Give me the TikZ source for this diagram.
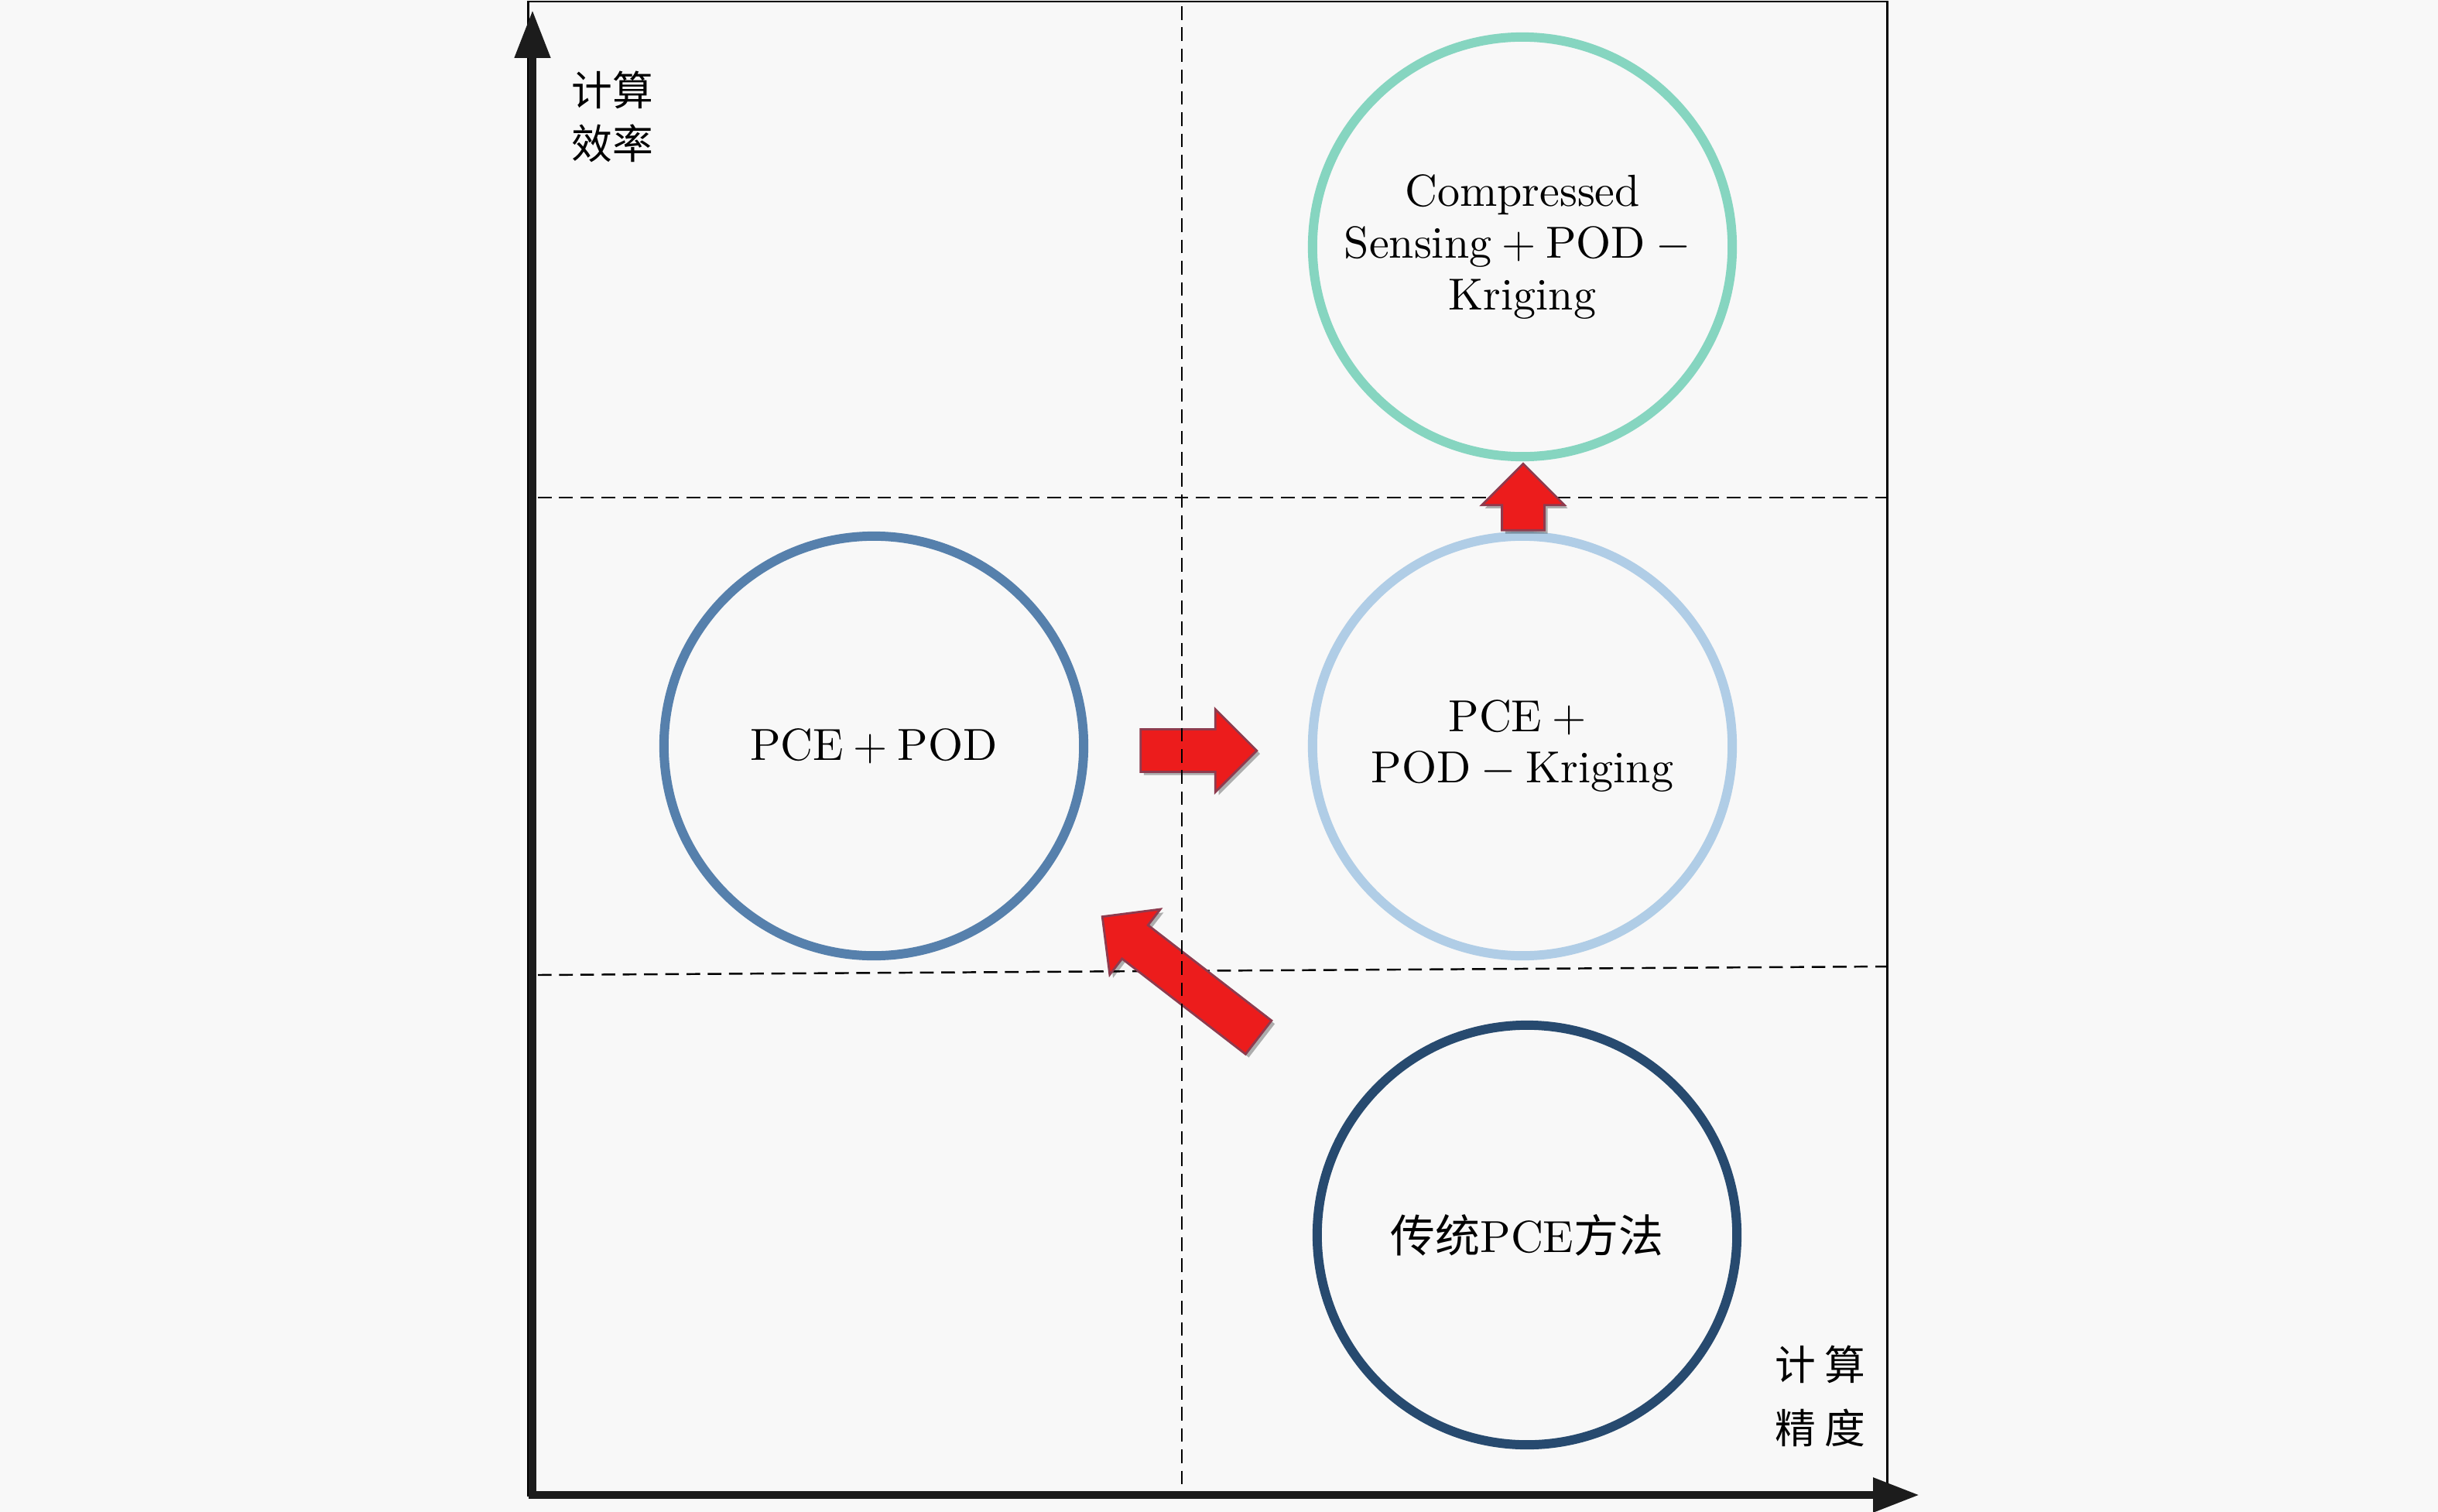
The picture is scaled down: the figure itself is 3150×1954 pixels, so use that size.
\RequirePackage{fix-cm}
\documentclass[tikz,border=0pt]{standalone}
\usepackage{fontspec}
\setmainfont{lmroman10-regular}[Extension=.otf]
\newfontfamily\cjk{Noto Sans CJK SC}
\usetikzlibrary{arrows.meta,shapes.arrows,shadows}
\definecolor{bgc}{HTML}{F8F8F8}
\definecolor{arrred}{HTML}{EC1C1C}
\definecolor{arrline}{HTML}{8E3B4E}
\definecolor{cpod}{HTML}{5680AC}
\definecolor{ckrig}{HTML}{B0CDE6}
\definecolor{ccs}{HTML}{86D5C0}
\definecolor{ctrad}{HTML}{274A6F}
\definecolor{axisblack}{HTML}{1C1C1C}
\begin{document}
\begin{tikzpicture}[x=0.01cm,y=-0.01cm,
  circ/.style={circle, draw, line width=3.4pt, minimum size=5.42cm, inner sep=0pt, align=center, font=\fontsize{16.5pt}{19pt}\selectfont},
  blockarr/.style={single arrow, fill=arrred, draw=arrline, line width=0.8pt, minimum width=1.04cm, single arrow head extend=0.26cm, single arrow tip angle=90, inner xsep=0pt, inner ysep=0.26cm, drop shadow={shadow xshift=1.2pt, shadow yshift=-1.2pt, opacity=0.3, fill=black}},
  gridline/.style={draw=black, line width=0.7pt, dash pattern=on 5pt off 2.8pt},
  axisline/.style={line width=3.1pt, draw=axisblack, line join=miter},
  framebox/.style={draw=black, line width=0.85pt},
  axislabel/.style={font=\cjk\fontsize{15pt}{19.4pt}\selectfont, align=left, inner sep=0pt}
]
\fill[bgc] (0,0) rectangle (3150,1954);
\useasboundingbox (0,0) rectangle (3150,1954);
% frame
\draw[framebox] (682,2) rectangle (2438,1932);
% horizontal dashed lines
\draw[gridline] (695,643) -- (2438,643);
\draw[gridline] (695,1260) -- (2438,1249);
% circles
\node[circ, draw=cpod] (pcepod) at (1129,964) {PCE${}+{}$POD};
\node[circ, draw=ckrig] (krig) at (1967,964) {PCE${}+{}$\\POD${}-{}$Kriging};
\node[circ, draw=ccs] (cs) at (1967,319) {Compressed\\Sensing${}+{}$POD${}-{}$\\Kriging};
\node[circ, draw=ctrad] (trad) at (1973,1596) {{\cjk 传统}PCE{\cjk 方法}};
% block arrows
\node[blockarr, minimum height=1.5cm] (a1) at (1535,970) {};
\node[blockarr, minimum height=0.86cm, rotate=90] (a2) at (1968,656) {};
\node[blockarr, minimum height=2.55cm, rotate=142.3] (a3) at (1536,1271) {};
% vertical dashed line
\draw[gridline] (1527,8) -- (1527,1922);
% axes
\coordinate (org) at (688,1932);
\coordinate (ytip) at (688,13);
\coordinate (xtip) at (2480,1932);
\draw[axisline, {Triangle[length=17.6pt,width=12.5pt]}-{Triangle[length=17pt,width=12pt]}] (ytip) -- (org) -- (xtip);
% axis labels
\node[axislabel] (ylab) at (791,151) {计算\\效率};
\node[axislabel, font=\cjk\fontsize{15pt}{23.3pt}\selectfont] (xlab) at (2352,1804) {计\hspace{3pt}算\\精\hspace{3pt}度};
\end{tikzpicture}
\end{document}
